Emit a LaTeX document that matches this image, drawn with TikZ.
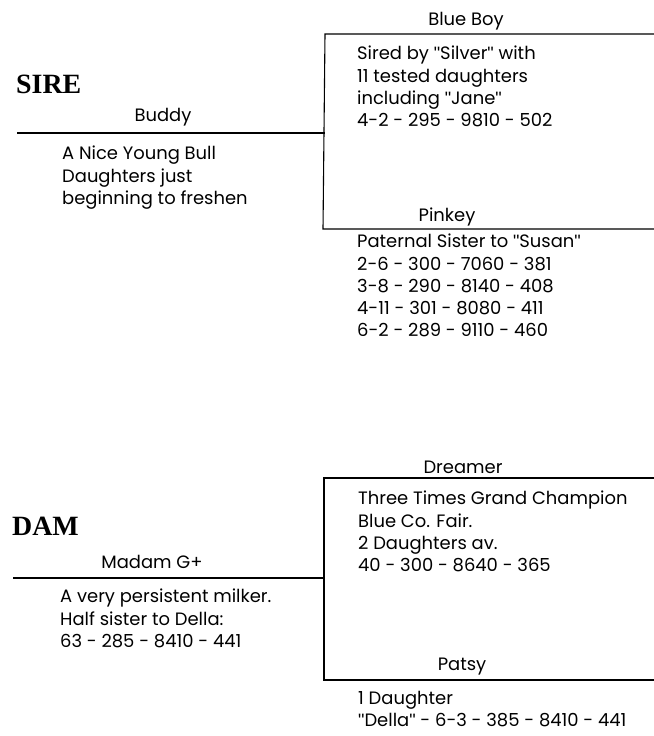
\documentclass[tikz,border=0pt]{standalone}
\usepackage{fontspec}
\setmainfont{Poppins}
\newfontfamily\headfont{Liberation Serif}
\newfontfamily\quotefont{Liberation Sans}
\newcommand\qq[1]{{\quotefont"}#1{\quotefont"}}
\usetikzlibrary{positioning}
\tikzset{
    rule/.style = {line width=1.1bp},
    heading/.style = {font=\headfont\bfseries\fontsize{28}{28}\selectfont, anchor=base west, inner sep=0pt},
    cowname/.style = {font=\fontsize{18}{20}\selectfont, anchor=base, inner sep=0pt},
    notes/.style = {font=\fontsize{18}{22.3}\selectfont, align=left, anchor=north west, inner sep=0pt}
}
\begin{document}
\begin{tikzpicture}[x=1bp, y=-1bp]
\useasboundingbox (0,0) rectangle (654,736);

% ---- SIRE (top half) ----
\node[heading] (sire) at (16,93) {SIRE};

\coordinate (buddy-l) at (17,133);
\coordinate (sire-j) at (325,133);
\coordinate (blueboy-l) at (325,34);
\coordinate (blueboy-r) at (654,34);
\coordinate (pinkey-l) at (323,229);
\coordinate (pinkey-r) at (654,229);

\draw[rule] (buddy-l) -- (sire-j);
\draw[rule] (blueboy-r) -- (blueboy-l) -- (pinkey-l |- pinkey-r) -- (pinkey-r);

\node[cowname] (buddy) at (163,121) {Buddy};
\node[notes] (buddy-notes) at (62,146) {%
  A Nice Young Bull\\
  Daughters just\\
  beginning to freshen};

\node[cowname] (blueboy) at (466,26) {Blue Boy};
\node[notes] (blueboy-notes) at (357,46) {%
  Sired by \qq{Silver} with\\
  11 tested daughters\\
  including \qq{Jane}\\
  4-2 - 295 - 9810 - 502};

\node[cowname] (pinkey) at (447,221) {Pinkey};
\node[notes] (pinkey-notes) at (357,234) {%
  Paternal Sister to \qq{Susan}\\
  2-6 - 300 - 7060 - 381\\
  3-8 - 290 - 8140 - 408\\
  4-11 - 301 - 8080 - 411\\
  6-2 - 289 - 9110 - 460};

% ---- DAM (bottom half) ----
\node[heading] (dam) at (12,535) {DAM};

\coordinate (madam-l) at (13,578);
\coordinate (dam-j) at (324,578);
\coordinate (dreamer-l) at (324,478);
\coordinate (dreamer-r) at (654,478);
\coordinate (patsy-l) at (324,680);
\coordinate (patsy-r) at (654,680);

\draw[rule] (madam-l) -- (dam-j);
\draw[rule] (dreamer-r) -- (dreamer-l) -- (patsy-l) -- (patsy-r);

\node[cowname] (madam) at (152,568) {Madam G+};
\node[notes] (madam-notes) at (60,589) {%
  A very persistent milker.\\
  Half sister to Della:\\
  63 - 285 - 8410 - 441};

\node[cowname] (dreamer) at (463,473) {Dreamer};
\node[notes] (dreamer-notes) at (358,491) {%
  Three Times Grand Champion\\
  Blue Co. Fair.\\
  2 Daughters av.\\
  40 - 300 - 8640 - 365};

\node[cowname] (patsy) at (462,670) {Patsy};
\node[notes] (patsy-notes) at (358,691) {%
  1 Daughter\\
  \qq{Della} - 6-3 - 385 - 8410 - 441};

\end{tikzpicture}
\end{document}
